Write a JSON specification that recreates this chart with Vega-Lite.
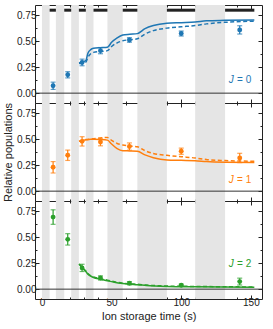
{
"$schema": "https://vega.github.io/schema/vega-lite/v6.json",
"padding": {"left": 2, "right": 5, "top": 4, "bottom": 4},
"spacing": 0,
"bounds": "flush",
"config": {
  "view": {"stroke": "#222", "strokeWidth": 1},
  "axis": {"labelFont": "Liberation Sans", "titleFont": "Liberation Sans", "labelFontSize": 10, "titleFontSize": 11, "titleFontWeight": "normal", "labelColor": "#222", "titleColor": "#222", "tickColor": "#222", "tickWidth": 1, "grid": false, "domain": false, "labelPadding": 3, "titlePadding": 3},
  "axisX": {"labelPadding": 2}
},
"datasets": {
  "one": [{"a": 1}],
  "bands": [{"x1":0,"x2":5.5},{"x1":10,"x2":16},{"x1":21,"x2":26.5},{"x1":31.5,"x2":37},{"x1":47,"x2":58},{"x1":68.5,"x2":89.7},{"x1":110,"x2":131.5}],
  "bars": [{"x1":5.5,"x2":10},{"x1":16,"x2":21},{"x1":26.5,"x2":31.5},{"x1":37,"x2":47},{"x1":58,"x2":68.5},{"x1":89.7,"x2":110},{"x1":131.5,"x2":152.5}],
  "labs": [{"J":"0","t":150.3,"v":0.13,"eq":"= 0"},{"J":"1","t":150.3,"v":0.11,"eq":"= 1"},{"J":"2","t":150.3,"v":0.24,"eq":"= 2"}],
  "pts": [
    {"J":"0","t":8,"v":0.071,"lo":0.036,"hi":0.106},{"J":"0","t":18.5,"v":0.177,"lo":0.147,"hi":0.207},{"J":"0","t":28.8,"v":0.296,"lo":0.264,"hi":0.328},{"J":"0","t":42,"v":0.41,"lo":0.38,"hi":0.44},{"J":"0","t":62.8,"v":0.513,"lo":0.491,"hi":0.535},{"J":"0","t":100,"v":0.575,"lo":0.551,"hi":0.599},{"J":"0","t":142,"v":0.61,"lo":0.57,"hi":0.65},
    {"J":"1","t":8,"v":0.23,"lo":0.175,"hi":0.285},{"J":"1","t":18.5,"v":0.346,"lo":0.296,"hi":0.396},{"J":"1","t":28.8,"v":0.48,"lo":0.435,"hi":0.525},{"J":"1","t":42,"v":0.474,"lo":0.437,"hi":0.511},{"J":"1","t":62.8,"v":0.43,"lo":0.395,"hi":0.465},{"J":"1","t":100,"v":0.385,"lo":0.355,"hi":0.415},{"J":"1","t":142,"v":0.32,"lo":0.275,"hi":0.365},
    {"J":"2","t":8,"v":0.695,"lo":0.625,"hi":0.765},{"J":"2","t":18.5,"v":0.48,"lo":0.425,"hi":0.535},{"J":"2","t":28.8,"v":0.205,"lo":0.17,"hi":0.24},{"J":"2","t":42,"v":0.108,"lo":0.088,"hi":0.128},{"J":"2","t":62.8,"v":0.057,"lo":0.042,"hi":0.072},{"J":"2","t":100,"v":0.038,"lo":0.028,"hi":0.048},{"J":"2","t":142,"v":0.073,"lo":0.04,"hi":0.106}
  ],
  "curves": [
    {"J":"0","s":"solid","t":26.6,"v":0.29},{"J":"0","s":"solid","t":29,"v":0.3},{"J":"0","s":"solid","t":31.5,"v":0.315},{"J":"0","s":"solid","t":33,"v":0.385},{"J":"0","s":"solid","t":35,"v":0.42},{"J":"0","s":"solid","t":37,"v":0.432},{"J":"0","s":"solid","t":42,"v":0.438},{"J":"0","s":"solid","t":47,"v":0.442},{"J":"0","s":"solid","t":50,"v":0.49},{"J":"0","s":"solid","t":54,"v":0.533},{"J":"0","s":"solid","t":58,"v":0.56},{"J":"0","s":"solid","t":63,"v":0.568},{"J":"0","s":"solid","t":68.5,"v":0.574},{"J":"0","s":"solid","t":74,"v":0.622},{"J":"0","s":"solid","t":80,"v":0.652},{"J":"0","s":"solid","t":89.7,"v":0.674},{"J":"0","s":"solid","t":100,"v":0.68},{"J":"0","s":"solid","t":110,"v":0.686},{"J":"0","s":"solid","t":118,"v":0.697},{"J":"0","s":"solid","t":131.5,"v":0.702},{"J":"0","s":"solid","t":152.5,"v":0.706},
    {"J":"0","s":"dash","t":26.6,"v":0.285},{"J":"0","s":"dash","t":29,"v":0.29},{"J":"0","s":"dash","t":31.5,"v":0.3},{"J":"0","s":"dash","t":33,"v":0.345},{"J":"0","s":"dash","t":35,"v":0.38},{"J":"0","s":"dash","t":37,"v":0.393},{"J":"0","s":"dash","t":42,"v":0.402},{"J":"0","s":"dash","t":47,"v":0.41},{"J":"0","s":"dash","t":50,"v":0.45},{"J":"0","s":"dash","t":54,"v":0.485},{"J":"0","s":"dash","t":58,"v":0.505},{"J":"0","s":"dash","t":63,"v":0.515},{"J":"0","s":"dash","t":68.5,"v":0.525},{"J":"0","s":"dash","t":74,"v":0.57},{"J":"0","s":"dash","t":80,"v":0.603},{"J":"0","s":"dash","t":89.7,"v":0.627},{"J":"0","s":"dash","t":100,"v":0.64},{"J":"0","s":"dash","t":110,"v":0.652},{"J":"0","s":"dash","t":118,"v":0.668},{"J":"0","s":"dash","t":131.5,"v":0.683},{"J":"0","s":"dash","t":152.5,"v":0.694},
    {"J":"1","s":"solid","t":26.6,"v":0.48},{"J":"1","s":"solid","t":29,"v":0.49},{"J":"1","s":"solid","t":31.5,"v":0.495},{"J":"1","s":"solid","t":35,"v":0.5},{"J":"1","s":"solid","t":37,"v":0.5},{"J":"1","s":"solid","t":42,"v":0.498},{"J":"1","s":"solid","t":47,"v":0.492},{"J":"1","s":"solid","t":50,"v":0.455},{"J":"1","s":"solid","t":54,"v":0.41},{"J":"1","s":"solid","t":58,"v":0.39},{"J":"1","s":"solid","t":63,"v":0.388},{"J":"1","s":"solid","t":68.5,"v":0.385},{"J":"1","s":"solid","t":74,"v":0.35},{"J":"1","s":"solid","t":80,"v":0.322},{"J":"1","s":"solid","t":89.7,"v":0.3},{"J":"1","s":"solid","t":100,"v":0.297},{"J":"1","s":"solid","t":110,"v":0.294},{"J":"1","s":"solid","t":118,"v":0.285},{"J":"1","s":"solid","t":131.5,"v":0.279},{"J":"1","s":"solid","t":152.5,"v":0.277},
    {"J":"1","s":"dash","t":26.6,"v":0.48},{"J":"1","s":"dash","t":29,"v":0.49},{"J":"1","s":"dash","t":31.5,"v":0.497},{"J":"1","s":"dash","t":35,"v":0.503},{"J":"1","s":"dash","t":37,"v":0.505},{"J":"1","s":"dash","t":42,"v":0.512},{"J":"1","s":"dash","t":47,"v":0.518},{"J":"1","s":"dash","t":50,"v":0.49},{"J":"1","s":"dash","t":54,"v":0.46},{"J":"1","s":"dash","t":58,"v":0.445},{"J":"1","s":"dash","t":63,"v":0.435},{"J":"1","s":"dash","t":68.5,"v":0.428},{"J":"1","s":"dash","t":74,"v":0.39},{"J":"1","s":"dash","t":80,"v":0.363},{"J":"1","s":"dash","t":89.7,"v":0.345},{"J":"1","s":"dash","t":100,"v":0.332},{"J":"1","s":"dash","t":110,"v":0.32},{"J":"1","s":"dash","t":118,"v":0.305},{"J":"1","s":"dash","t":131.5,"v":0.295},{"J":"1","s":"dash","t":152.5,"v":0.288},
    {"J":"2","s":"solid","t":26.6,"v":0.24},{"J":"2","s":"solid","t":28,"v":0.22},{"J":"2","s":"solid","t":30,"v":0.19},{"J":"2","s":"solid","t":31.5,"v":0.17},{"J":"2","s":"solid","t":33,"v":0.145},{"J":"2","s":"solid","t":35,"v":0.125},{"J":"2","s":"solid","t":37,"v":0.112},{"J":"2","s":"solid","t":42,"v":0.096},{"J":"2","s":"solid","t":47,"v":0.082},{"J":"2","s":"solid","t":52,"v":0.066},{"J":"2","s":"solid","t":58,"v":0.054},{"J":"2","s":"solid","t":63,"v":0.048},{"J":"2","s":"solid","t":68.5,"v":0.043},{"J":"2","s":"solid","t":75,"v":0.035},{"J":"2","s":"solid","t":89.7,"v":0.026},{"J":"2","s":"solid","t":110,"v":0.022},{"J":"2","s":"solid","t":131.5,"v":0.02},{"J":"2","s":"solid","t":152.5,"v":0.019},
    {"J":"2","s":"dash","t":26.6,"v":0.243},{"J":"2","s":"dash","t":28,"v":0.224},{"J":"2","s":"dash","t":30,"v":0.195},{"J":"2","s":"dash","t":31.5,"v":0.175},{"J":"2","s":"dash","t":33,"v":0.15},{"J":"2","s":"dash","t":35,"v":0.13},{"J":"2","s":"dash","t":37,"v":0.117},{"J":"2","s":"dash","t":42,"v":0.1},{"J":"2","s":"dash","t":47,"v":0.087},{"J":"2","s":"dash","t":52,"v":0.071},{"J":"2","s":"dash","t":58,"v":0.058},{"J":"2","s":"dash","t":63,"v":0.052},{"J":"2","s":"dash","t":68.5,"v":0.047},{"J":"2","s":"dash","t":75,"v":0.039},{"J":"2","s":"dash","t":89.7,"v":0.03},{"J":"2","s":"dash","t":110,"v":0.026},{"J":"2","s":"dash","t":131.5,"v":0.023},{"J":"2","s":"dash","t":152.5,"v":0.021}
  ]
},
"vconcat": [
 {
  "width": 227, "height": 98,
  "resolve": {"axis": {"x": "independent", "y": "independent"}},
  "layer": [
   {"data": {"name": "bands"}, "mark": {"type": "rect", "color": "#e5e5e5"},
    "encoding": {"x": {"field": "x1", "type": "quantitative", "scale": {"domain": [-5, 158], "nice": false, "zero": false}, "axis": {"orient": "bottom", "values": [0,50,100,150], "tickSize": -4, "labels": false, "title": null}}, "x2": {"field": "x2"}}},
   {"data": {"name": "one"}, "mark": {"type": "rule", "color": "#333", "strokeWidth": 1},
    "encoding": {"y": {"datum": 0, "type": "quantitative", "scale": {"domain": [-0.095, 0.85], "nice": false, "zero": false}, "axis": {"orient": "left", "values": [0,0.25,0.5,0.75], "format": ".2f", "tickSize": -4, "title": null}}}},
   {"data": {"name": "bars"}, "mark": {"type": "rule", "color": "#222", "strokeWidth": 3},
    "encoding": {"x": {"field": "x1", "type": "quantitative", "axis": null}, "x2": {"field": "x2"}, "y": {"datum": 0.8, "type": "quantitative", "axis": null}}},
   {"data": {"name": "curves"}, "transform": [{"filter": "datum.J === '0' && datum.s === 'solid'"}], "mark": {"type": "line", "color": "#1f77b4", "strokeWidth": 1.5, "interpolate": "monotone"},
    "encoding": {"x": {"field": "t", "type": "quantitative", "axis": {"orient": "bottom", "values": [10,20,30,40,60,70,80,90,110,120,130,140], "tickSize": -2, "labels": false, "title": null}}, "y": {"field": "v", "type": "quantitative", "axis": {"orient": "right", "values": [0,0.25,0.5,0.75], "tickSize": -4, "labels": false, "title": null}}}},
   {"data": {"name": "curves"}, "transform": [{"filter": "datum.J === '0' && datum.s === 'dash'"}], "mark": {"type": "line", "color": "#1f77b4", "strokeWidth": 1.5, "strokeDash": [4, 2.5], "interpolate": "monotone"},
    "encoding": {"x": {"field": "t", "type": "quantitative", "axis": {"orient": "top", "values": [0,50,100,150], "tickSize": -4, "labels": false, "title": null}}, "y": {"field": "v", "type": "quantitative", "axis": {"orient": "left", "values": [0.125,0.375,0.625], "tickSize": -2, "labels": false, "title": null}}}},
   {"data": {"name": "pts"}, "transform": [{"filter": "datum.J === '0'"}], "mark": {"type": "rule", "color": "#1f77b4", "strokeWidth": 1.2},
    "encoding": {"x": {"field": "t", "type": "quantitative", "axis": {"orient": "top", "values": [10,20,30,40,60,70,80,90,110,120,130,140], "tickSize": -2, "labels": false, "title": null}}, "y": {"field": "lo", "type": "quantitative", "axis": {"orient": "right", "values": [0.125,0.375,0.625], "tickSize": -2, "labels": false, "title": null}}, "y2": {"field": "hi"}}},
   {"data": {"name": "pts"}, "transform": [{"filter": "datum.J === '0'"}], "mark": {"type": "tick", "orient": "horizontal", "size": 5, "thickness": 1.2, "color": "#1f77b4"},
    "encoding": {"x": {"field": "t", "type": "quantitative", "axis": null}, "y": {"field": "lo", "type": "quantitative", "axis": null}}},
   {"data": {"name": "pts"}, "transform": [{"filter": "datum.J === '0'"}], "mark": {"type": "tick", "orient": "horizontal", "size": 5, "thickness": 1.2, "color": "#1f77b4"},
    "encoding": {"x": {"field": "t", "type": "quantitative", "axis": null}, "y": {"field": "hi", "type": "quantitative", "axis": null}}},
   {"data": {"name": "pts"}, "transform": [{"filter": "datum.J === '0'"}], "mark": {"type": "point", "filled": true, "size": 24, "opacity": 1, "color": "#1f77b4"},
    "encoding": {"x": {"field": "t", "type": "quantitative", "axis": null}, "y": {"field": "v", "type": "quantitative", "axis": null}}},
   {"data": {"name": "labs"}, "transform": [{"filter": "datum.J === '0'"}], "mark": {"type": "text", "align": "right", "baseline": "middle", "font": "Liberation Sans", "fontSize": 10, "color": "#1f77b4"},
    "encoding": {"x": {"field": "t", "type": "quantitative", "axis": null}, "y": {"field": "v", "type": "quantitative", "axis": null}, "text": {"field": "eq"}}},
   {"data": {"name": "labs"}, "transform": [{"filter": "datum.J === '0'"}], "mark": {"type": "text", "align": "right", "baseline": "middle", "font": "Liberation Sans", "fontSize": 10, "fontStyle": "italic", "dx": -17.5, "color": "#1f77b4"},
    "encoding": {"x": {"field": "t", "type": "quantitative", "axis": null}, "y": {"field": "v", "type": "quantitative", "axis": null}, "text": {"value": "J"}}}
  ]
 },
 {
  "width": 227, "height": 98,
  "resolve": {"axis": {"x": "independent", "y": "independent"}},
  "layer": [
   {"data": {"name": "bands"}, "mark": {"type": "rect", "color": "#e5e5e5"},
    "encoding": {"x": {"field": "x1", "type": "quantitative", "scale": {"domain": [-5, 158], "nice": false, "zero": false}, "axis": {"orient": "bottom", "values": [0,50,100,150], "tickSize": -4, "labels": false, "title": null}}, "x2": {"field": "x2"}}},
   {"data": {"name": "one"}, "mark": {"type": "rule", "color": "#333", "strokeWidth": 1},
    "encoding": {"y": {"datum": 0, "type": "quantitative", "scale": {"domain": [-0.095, 0.85], "nice": false, "zero": false}, "axis": {"orient": "left", "values": [0,0.25,0.5,0.75], "format": ".2f", "tickSize": -4, "title": "Relative populations"}}}},
   {"data": {"name": "curves"}, "transform": [{"filter": "datum.J === '1' && datum.s === 'solid'"}], "mark": {"type": "line", "color": "#ff7f0e", "strokeWidth": 1.5, "interpolate": "monotone"},
    "encoding": {"x": {"field": "t", "type": "quantitative", "axis": {"orient": "bottom", "values": [10,20,30,40,60,70,80,90,110,120,130,140], "tickSize": -2, "labels": false, "title": null}}, "y": {"field": "v", "type": "quantitative", "axis": {"orient": "right", "values": [0,0.25,0.5,0.75], "tickSize": -4, "labels": false, "title": null}}}},
   {"data": {"name": "curves"}, "transform": [{"filter": "datum.J === '1' && datum.s === 'dash'"}], "mark": {"type": "line", "color": "#ff7f0e", "strokeWidth": 1.5, "strokeDash": [4, 2.5], "interpolate": "monotone"},
    "encoding": {"x": {"field": "t", "type": "quantitative", "axis": {"orient": "top", "values": [0,50,100,150], "tickSize": -4, "labels": false, "title": null}}, "y": {"field": "v", "type": "quantitative", "axis": {"orient": "left", "values": [0.125,0.375,0.625], "tickSize": -2, "labels": false, "title": null}}}},
   {"data": {"name": "pts"}, "transform": [{"filter": "datum.J === '1'"}], "mark": {"type": "rule", "color": "#ff7f0e", "strokeWidth": 1.2},
    "encoding": {"x": {"field": "t", "type": "quantitative", "axis": {"orient": "top", "values": [10,20,30,40,60,70,80,90,110,120,130,140], "tickSize": -2, "labels": false, "title": null}}, "y": {"field": "lo", "type": "quantitative", "axis": {"orient": "right", "values": [0.125,0.375,0.625], "tickSize": -2, "labels": false, "title": null}}, "y2": {"field": "hi"}}},
   {"data": {"name": "pts"}, "transform": [{"filter": "datum.J === '1'"}], "mark": {"type": "tick", "orient": "horizontal", "size": 5, "thickness": 1.2, "color": "#ff7f0e"},
    "encoding": {"x": {"field": "t", "type": "quantitative", "axis": null}, "y": {"field": "lo", "type": "quantitative", "axis": null}}},
   {"data": {"name": "pts"}, "transform": [{"filter": "datum.J === '1'"}], "mark": {"type": "tick", "orient": "horizontal", "size": 5, "thickness": 1.2, "color": "#ff7f0e"},
    "encoding": {"x": {"field": "t", "type": "quantitative", "axis": null}, "y": {"field": "hi", "type": "quantitative", "axis": null}}},
   {"data": {"name": "pts"}, "transform": [{"filter": "datum.J === '1'"}], "mark": {"type": "point", "filled": true, "size": 24, "opacity": 1, "color": "#ff7f0e"},
    "encoding": {"x": {"field": "t", "type": "quantitative", "axis": null}, "y": {"field": "v", "type": "quantitative", "axis": null}}},
   {"data": {"name": "labs"}, "transform": [{"filter": "datum.J === '1'"}], "mark": {"type": "text", "align": "right", "baseline": "middle", "font": "Liberation Sans", "fontSize": 10, "color": "#ff7f0e"},
    "encoding": {"x": {"field": "t", "type": "quantitative", "axis": null}, "y": {"field": "v", "type": "quantitative", "axis": null}, "text": {"field": "eq"}}},
   {"data": {"name": "labs"}, "transform": [{"filter": "datum.J === '1'"}], "mark": {"type": "text", "align": "right", "baseline": "middle", "font": "Liberation Sans", "fontSize": 10, "fontStyle": "italic", "dx": -17.5, "color": "#ff7f0e"},
    "encoding": {"x": {"field": "t", "type": "quantitative", "axis": null}, "y": {"field": "v", "type": "quantitative", "axis": null}, "text": {"value": "J"}}}
  ]
 },
 {
  "width": 227, "height": 98,
  "resolve": {"axis": {"x": "independent", "y": "independent"}},
  "layer": [
   {"data": {"name": "bands"}, "mark": {"type": "rect", "color": "#e5e5e5"},
    "encoding": {"x": {"field": "x1", "type": "quantitative", "scale": {"domain": [-5, 158], "nice": false, "zero": false}, "axis": {"orient": "bottom", "values": [0,50,100,150], "format": "d", "tickSize": -4, "title": "Ion storage time (s)"}}, "x2": {"field": "x2"}}},
   {"data": {"name": "one"}, "mark": {"type": "rule", "color": "#333", "strokeWidth": 1},
    "encoding": {"y": {"datum": 0, "type": "quantitative", "scale": {"domain": [-0.095, 0.85], "nice": false, "zero": false}, "axis": {"orient": "left", "values": [0,0.25,0.5,0.75], "format": ".2f", "tickSize": -4, "title": null}}}},
   {"data": {"name": "curves"}, "transform": [{"filter": "datum.J === '2' && datum.s === 'solid'"}], "mark": {"type": "line", "color": "#2ca02c", "strokeWidth": 1.5, "interpolate": "monotone"},
    "encoding": {"x": {"field": "t", "type": "quantitative", "axis": {"orient": "bottom", "values": [10,20,30,40,60,70,80,90,110,120,130,140], "tickSize": -2, "labels": false, "title": null}}, "y": {"field": "v", "type": "quantitative", "axis": {"orient": "right", "values": [0,0.25,0.5,0.75], "tickSize": -4, "labels": false, "title": null}}}},
   {"data": {"name": "curves"}, "transform": [{"filter": "datum.J === '2' && datum.s === 'dash'"}], "mark": {"type": "line", "color": "#2ca02c", "strokeWidth": 1.5, "strokeDash": [4, 2.5], "interpolate": "monotone"},
    "encoding": {"x": {"field": "t", "type": "quantitative", "axis": {"orient": "top", "values": [0,50,100,150], "tickSize": -4, "labels": false, "title": null}}, "y": {"field": "v", "type": "quantitative", "axis": {"orient": "left", "values": [0.125,0.375,0.625], "tickSize": -2, "labels": false, "title": null}}}},
   {"data": {"name": "pts"}, "transform": [{"filter": "datum.J === '2'"}], "mark": {"type": "rule", "color": "#2ca02c", "strokeWidth": 1.2},
    "encoding": {"x": {"field": "t", "type": "quantitative", "axis": {"orient": "top", "values": [10,20,30,40,60,70,80,90,110,120,130,140], "tickSize": -2, "labels": false, "title": null}}, "y": {"field": "lo", "type": "quantitative", "axis": {"orient": "right", "values": [0.125,0.375,0.625], "tickSize": -2, "labels": false, "title": null}}, "y2": {"field": "hi"}}},
   {"data": {"name": "pts"}, "transform": [{"filter": "datum.J === '2'"}], "mark": {"type": "tick", "orient": "horizontal", "size": 5, "thickness": 1.2, "color": "#2ca02c"},
    "encoding": {"x": {"field": "t", "type": "quantitative", "axis": null}, "y": {"field": "lo", "type": "quantitative", "axis": null}}},
   {"data": {"name": "pts"}, "transform": [{"filter": "datum.J === '2'"}], "mark": {"type": "tick", "orient": "horizontal", "size": 5, "thickness": 1.2, "color": "#2ca02c"},
    "encoding": {"x": {"field": "t", "type": "quantitative", "axis": null}, "y": {"field": "hi", "type": "quantitative", "axis": null}}},
   {"data": {"name": "pts"}, "transform": [{"filter": "datum.J === '2'"}], "mark": {"type": "point", "filled": true, "size": 24, "opacity": 1, "color": "#2ca02c"},
    "encoding": {"x": {"field": "t", "type": "quantitative", "axis": null}, "y": {"field": "v", "type": "quantitative", "axis": null}}},
   {"data": {"name": "labs"}, "transform": [{"filter": "datum.J === '2'"}], "mark": {"type": "text", "align": "right", "baseline": "middle", "font": "Liberation Sans", "fontSize": 10, "color": "#2ca02c"},
    "encoding": {"x": {"field": "t", "type": "quantitative", "axis": null}, "y": {"field": "v", "type": "quantitative", "axis": null}, "text": {"field": "eq"}}},
   {"data": {"name": "labs"}, "transform": [{"filter": "datum.J === '2'"}], "mark": {"type": "text", "align": "right", "baseline": "middle", "font": "Liberation Sans", "fontSize": 10, "fontStyle": "italic", "dx": -17.5, "color": "#2ca02c"},
    "encoding": {"x": {"field": "t", "type": "quantitative", "axis": null}, "y": {"field": "v", "type": "quantitative", "axis": null}, "text": {"value": "J"}}}
  ]
 }
]
}
